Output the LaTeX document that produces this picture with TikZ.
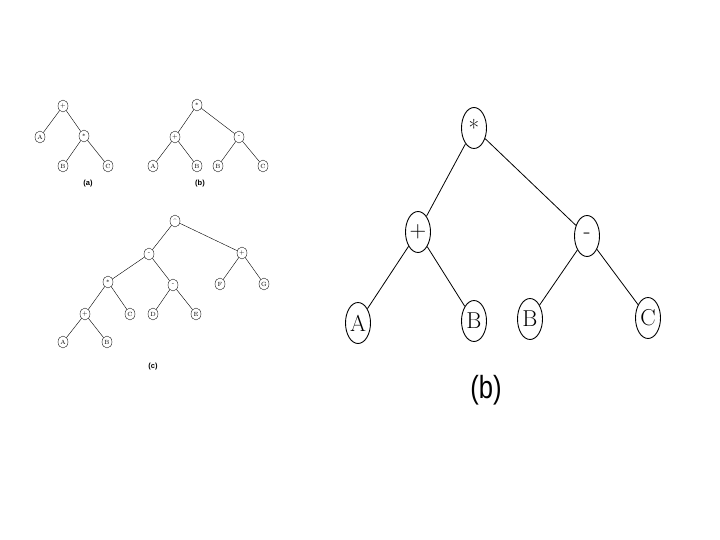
\documentclass[tikz,border=0pt]{standalone}
\usepackage{fontspec}
\newfontfamily\capfont{Liberation Sans}
\usetikzlibrary{shapes.geometric}
\tikzset{
  smallnode/.style={ellipse,draw,line width=0.4pt,inner sep=0pt,minimum width=10pt,minimum height=12pt,font=\fontsize{6}{6}\selectfont},
  bignode/.style={ellipse,draw,line width=0.9pt,inner sep=0pt,minimum width=25pt,minimum height=41pt,font=\fontsize{23}{23}\selectfont},
  smallcap/.style={font=\capfont\bfseries\fontsize{7.5}{7.5}\selectfont},
}
\begin{document}
\begin{tikzpicture}[x=1pt,y=-1pt]
			\useasboundingbox (0,0) rectangle (720,540);
			% tree (a)
			\begin{scope}[every node/.style={smallnode}]
				\node (aplus) at (63,106) {+};
				\node (aA) at (40,137) {A};
				\node (atimes) at (84,136) {*};
				\node (aB) at (63,166) {B};
				\node (aC) at (108,166) {C};
			\end{scope}
			\node[smallcap] (alabel) at (88,184) {(a)};
			
			\begin{scope}[line width=0.4pt]
				\path (aplus) edge (aA);
				\path (aplus) edge (atimes);
				\path (atimes) edge (aB);
				\path (atimes) edge (aC);
			\end{scope}
			
			% tree (b), small
			\begin{scope}[every node/.style={smallnode}]
				\node (btimes) at (197,105) {*};
				\node (bplus) at (175,137) {+};
				\node (bminus) at (239,137) {-};
				\node (bA) at (153,166) {A};
				\node (bB) at (197,166) {B};
				\node (bBB) at (218,166) {B};
				\node (bC) at (263,166) {C};
			\end{scope}
			\node[smallcap] (blabel) at (200,184) {(b)};
			
			\begin{scope}[line width=0.4pt]
				\path (btimes) edge (bplus);
				\path (btimes) edge (bminus);
				\path (bplus) edge (bA);
				\path (bplus) edge (bB);
				\path (bminus) edge (bBB);
				\path (bminus) edge (bC);
			\end{scope}
			
			% tree (c)
			\begin{scope}[every node/.style={smallnode}]
				\node (cpow) at (175,221) {\textasciicircum};
				\node (cminus) at (149,254) {-};
				\node (cplus) at (242,253) {+};
				\node (ctimes) at (108,282) {*};
				\node (cminusb) at (173,285) {-};
				\node (cF) at (220,284) {F};
				\node (cG) at (264,284) {G};
				\node (cplusb) at (85,314) {+};
				\node (cC) at (130,314) {C};
				\node (cD) at (153,314) {D};
				\node (cE) at (196,314) {E};
				\node (cA) at (63,342) {A};
				\node (cB) at (107,342) {B};
			\end{scope}
			\node[smallcap] (clabel) at (153,367) {(c)};
			
			\begin{scope}[line width=0.4pt]
				\path (cpow) edge (cminus);
				\path (cpow) edge (cplus);
				\path (cminus) edge (ctimes);
				\path (cminus) edge (cminusb);
				\path (cplus) edge (cF);
				\path (cplus) edge (cG);
				\path (ctimes) edge (cplusb);
				\path (ctimes) edge (cC);
				\path (cminusb) edge (cD);
				\path (cminusb) edge (cE);
				\path (cplusb) edge (cA);
				\path (cplusb) edge (cB);
			\end{scope}
			
			% tree (b), large
			\begin{scope}[every node/.style={bignode}]
				\node (times) at (474,128) {*};
				\node (plus) at (418,232) {+};
				\node (minus) at (587,236) {-};
				\node (A) at (358,323) {A};
				\node (B) at (474,321) {B};
				\node (BB) at (530,319) {B};
				\node (C) at (648,318) {C};
			\end{scope}
			\node[font=\capfont\fontsize{32}{32}\selectfont] (label) at (486,390) {\scalebox{0.8}[1]{(b)}};
			
			\begin{scope}[line width=0.8pt]
				\path (times) edge (plus);
				\path (times) edge (minus);
				\path (plus) edge (A);
				\path (plus) edge (B);
				\path (minus) edge (BB);
				\path (minus) edge (C);
			\end{scope}
		\end{tikzpicture}
\end{document}
